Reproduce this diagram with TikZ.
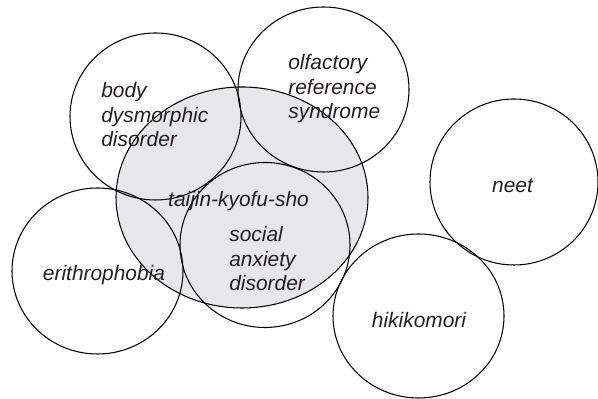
\documentclass[tikz,border=0pt]{standalone}
\usepackage{fontspec}
\setmainfont{Liberation Sans}
\usepackage{xcolor}
\usepackage{tikz}
\usetikzlibrary{positioning}

\definecolor{tkgray}{HTML}{E6E7E9}
\definecolor{ink}{HTML}{231F20}
\tikzset{
  ring/.style={draw=black, line width=0.6pt},
  term/.style={inner sep=0pt, text=ink, align=left,
    font=\fontsize{11.9}{14.2}\selectfont\itshape}
}

\begin{document}
\begin{tikzpicture}
  \useasboundingbox (0,0) rectangle (11.96,7.98);
  \fill[tkgray] (4.84,4.03) ellipse (2.52cm and 2.21cm);
  \draw[ring] (4.84,4.03) ellipse (2.52cm and 2.21cm);
  \draw[ring] (3.11,5.65) ellipse (1.71cm and 1.67cm);
  \draw[ring] (6.47,6.19) ellipse (1.71cm and 1.65cm);
  \draw[ring] (5.30,3.08) ellipse (1.70cm and 1.65cm);
  \draw[ring] (1.95,2.56) ellipse (1.71cm and 1.66cm);
  \draw[ring] (10.28,4.34) ellipse (1.68cm and 1.66cm);
  \draw[ring] (8.37,1.66) ellipse (1.71cm and 1.64cm);
  \node[term, anchor=base west] (bdd) at (2.02,5.04) {body\\dysmorphic\\disorder};
  \node[term, anchor=base west] (ors) at (5.76,5.60) {olfactory\\reference\\syndrome};
  \node[term, anchor=base] (tks) at (4.77,3.84) {taijin-kyofu-sho};
  \node[term, anchor=base west] (sad) at (4.58,2.16) {social\\anxiety\\disorder};
  \node[term, anchor=base] (ery) at (2.08,2.36) {erithrophobia};
  \node[term, anchor=base] (neet) at (10.25,4.12) {neet};
  \node[term, anchor=base] (hiki) at (8.38,1.42) {hikikomori};
\end{tikzpicture}
\end{document}
